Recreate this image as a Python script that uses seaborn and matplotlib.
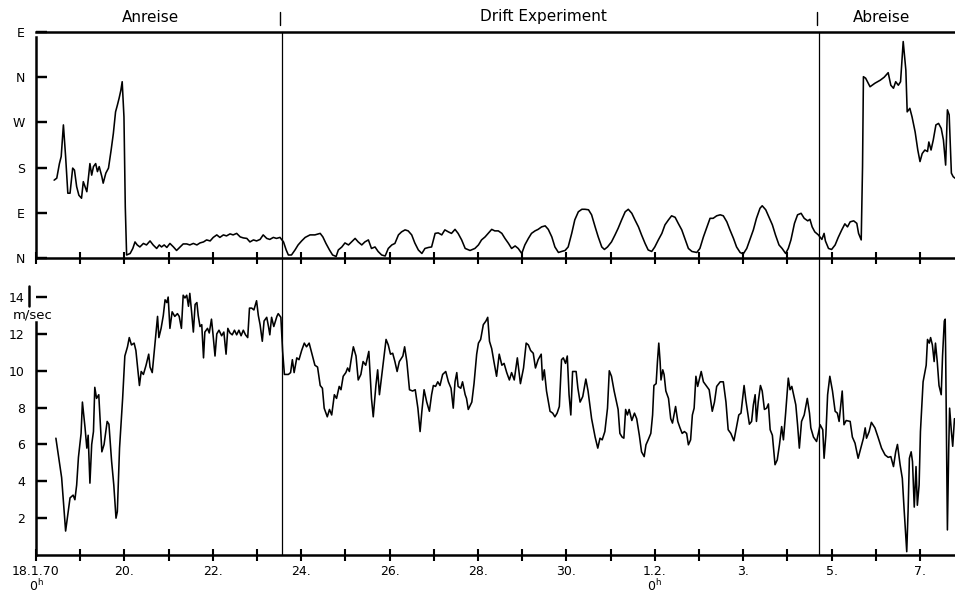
import numpy as np
import pandas as pd
import matplotlib
matplotlib.use("Agg")
import matplotlib.pyplot as plt
import seaborn as sns
from matplotlib.lines import Line2D
from matplotlib.transforms import blended_transform_factory

# ---- wind speed (days since 18.1.70 0h, m/sec) ----
speed_day = [
    0.45,0.58,0.67,0.77,0.84,0.88,0.92,0.96,1.02,1.05,
    1.11,1.15,1.18,1.22,1.26,1.30,1.33,1.37,1.42,1.49,
    1.54,1.61,1.65,1.71,1.76,1.81,1.84,1.89,1.96,2.01,
    2.07,2.11,2.16,2.22,2.26,2.30,2.34,2.38,2.43,2.49,
    2.55,2.58,2.63,2.69,2.75,2.78,2.83,2.88,2.92,2.96,
    2.99,3.03,3.08,3.14,3.20,3.24,3.29,3.33,3.37,3.41,
    3.45,3.48,3.52,3.56,3.60,3.64,3.67,3.71,3.75,3.79,
    3.82,3.88,3.92,3.97,4.00,4.05,4.09,4.14,4.20,4.25,
    4.30,4.34,4.39,4.44,4.49,4.54,4.59,4.64,4.69,4.74,
    4.79,4.83,4.88,4.93,4.99,5.03,5.07,5.12,5.16,5.22,
    5.26,5.29,5.33,5.38,5.45,5.48,
    5.54,5.58,5.62,5.71,5.76,5.80,5.84,5.90,5.95,6.01,
    6.07,6.12,6.18,6.24,6.31,6.37,6.43,6.48,6.52,6.59,
    6.64,6.69,6.75,6.80,6.86,6.90,6.95,7.01,7.05,7.09,
    7.13,7.18,7.24,7.29,7.35,7.40,7.46,7.53,7.59,7.63,
    7.69,7.73,7.77,7.81,7.86,7.92,7.97,8.02,8.07,8.12,
    8.17,8.22,8.30,8.34,8.39,8.45,8.52,8.58,8.64,8.69,
    8.73,8.78,8.84,8.90,8.95,8.99,9.04,9.09,9.14,9.20,
    9.27,9.33,9.39,9.44,9.48,9.52,9.55,9.61,9.65,9.71,
    9.74,9.78,9.86,9.91,9.97,10.01,10.06,10.12,10.18,10.22,
    10.26,10.31,10.36,10.42,10.48,10.54,10.59,10.65,10.71,10.76,
    10.82,10.89,
    10.96,11.03,11.09,11.14,11.19,11.25,11.30,11.36,11.43,11.46,
    11.50,11.55,11.63,11.69,11.74,11.79,11.84,11.89,11.93,11.98,
    12.02,12.06,12.10,12.14,12.22,12.26,12.31,12.37,12.44,12.49,
    12.57,12.65,12.71,12.76,12.81,12.87,12.93,12.97,13.02,13.08,
    13.14,13.17,13.21,13.26,13.30,13.34,13.38,13.42,13.48,13.54,
    13.59,13.65,13.70,13.76,13.80,13.85,13.91,13.95,13.98,14.03,
    14.06,14.09,14.12,14.14,14.18,14.21,14.25,14.31,14.36,14.40,
    14.47,14.52,14.57,14.62,14.67,14.72,14.76,14.81,14.85,14.89,
    14.93,14.97,15.05,15.10,15.16,15.23,15.30,15.35,15.40,
    15.48,15.55,15.61,15.66,15.72,15.79,15.85,15.90,15.95,16.02,
    16.06,16.14,16.19,16.23,16.27,16.30,16.34,16.39,16.43,16.48,
    16.53,16.57,16.61,16.66,16.72,16.77,16.82,16.87,16.91,16.96,
    17.02,17.06,17.10,17.15,17.19,17.23,17.27,17.32,17.38,17.45,
    17.50,17.53,17.59,17.66,17.70,17.74,17.80,17.83,17.87,17.91,
    17.96,18.02,18.08,18.13,18.17,18.24,18.28,18.33,18.42,18.47,
    18.53,18.60,18.66,18.72,18.76,18.79,18.85,18.90,18.98,19.05,
    19.13,19.21,19.28,19.34,19.40,19.45,19.49,19.55,19.60,19.64,
    19.70,19.73,19.76,19.80,19.83,19.87,19.91,19.94,19.98,20.01,
    20.07,20.14,20.17,20.21,20.24,20.28,20.32,20.35,20.39,20.43,
    20.48,20.51,20.55,20.57,20.58,20.60,20.62,20.65,20.67,20.71,
    20.74,20.78,
]
speed_ms = [
    6.34,4.2,1.3,3.1,3.25,3.0,3.8,5.3,6.6,8.3,
    6.9,5.8,6.5,3.9,6.0,6.7,9.1,8.5,8.7,5.6,
    6.0,7.25,7.1,5.1,3.8,2.0,2.35,5.8,8.5,10.8,
    11.3,11.8,11.4,11.5,11.1,10.15,9.2,9.96,9.8,10.3,
    10.9,10.2,9.9,11.4,12.95,11.8,12.3,13.0,13.85,13.7,
    14.0,12.3,13.2,12.95,13.1,12.95,12.3,14.1,13.95,14.1,
    13.5,14.2,13.2,12.1,13.6,13.7,13.0,12.4,12.5,10.7,
    12.1,12.3,12.05,12.8,12.1,10.8,12.0,12.2,11.9,12.1,
    10.9,12.3,12.05,11.95,12.2,11.95,12.2,11.9,12.2,11.95,
    11.8,13.4,13.4,13.3,13.8,13.0,12.5,11.6,12.7,12.9,
    12.4,11.95,12.9,12.4,12.95,13.1,
    12.9,11.05,9.8,9.8,9.9,10.6,9.9,10.7,10.6,11.1,
    11.5,11.3,11.5,10.95,10.3,10.2,9.2,9.05,7.97,7.5,
    7.9,7.6,8.7,8.5,9.15,8.97,9.7,9.9,10.15,9.96,
    10.6,11.3,10.8,9.5,9.8,10.5,10.3,11.05,8.5,7.5,
    9.2,10.05,8.7,9.5,10.5,11.7,11.4,10.9,10.95,10.5,
    9.96,10.5,10.8,11.3,10.5,8.97,8.9,8.97,7.97,6.7,
    7.8,8.97,8.3,7.8,8.7,9.2,9.15,9.4,9.2,9.8,
    9.96,9.4,9.05,7.97,9.4,9.9,9.15,9.05,9.4,8.7,
    8.5,7.9,8.3,9.3,10.9,11.5,11.7,12.5,12.7,12.9,
    11.6,11.2,10.5,9.7,10.9,10.3,10.4,9.9,9.5,9.9,
    9.5,10.7,
    9.3,10.15,11.5,11.4,11.1,10.95,10.15,10.6,10.9,9.5,
    10.05,8.9,7.8,7.7,7.5,7.7,8.06,10.6,10.7,10.4,
    10.8,8.7,7.6,9.96,9.96,9.05,8.3,8.6,9.55,8.9,
    7.4,6.4,5.8,6.34,6.25,6.7,7.97,10.0,9.7,8.9,
    8.24,7.9,6.6,6.4,6.34,7.9,7.6,7.9,7.3,7.7,
    7.4,6.5,5.6,5.34,5.98,6.25,6.6,7.6,9.2,9.3,
    10.5,11.5,10.5,9.5,10.05,9.8,8.9,8.5,7.4,7.16,
    8.06,7.25,6.9,6.6,6.7,6.6,5.98,6.25,7.6,7.97,
    9.7,9.15,9.96,9.4,9.2,8.97,7.8,8.3,9.15,
    9.4,9.4,8.3,6.8,6.6,6.2,6.97,7.6,7.7,9.2,
    8.4,7.1,7.25,8.15,8.7,7.25,8.3,9.2,8.9,7.9,
    7.97,8.2,6.8,6.5,4.9,5.16,5.98,6.97,6.25,7.7,
    9.6,8.97,9.15,8.6,8.15,7.07,5.8,7.25,7.6,8.5,
    7.7,6.9,6.4,6.16,6.6,7.07,6.8,5.25,6.5,8.7,
    9.7,8.9,7.8,7.7,7.25,8.9,7.07,7.3,7.25,6.4,
    6.07,5.25,5.8,6.34,6.9,6.34,6.7,7.2,6.9,6.4,
    5.8,5.43,5.3,5.34,4.8,5.6,6.0,4.9,4.16,2.5,
    0.18,2.35,5.25,5.6,5.07,2.6,4.8,2.7,3.8,6.7,
    9.4,10.3,11.7,11.5,11.8,11.4,10.5,11.5,10.5,9.2,
    8.7,10.8,12.7,12.8,11.05,5.98,1.36,5.8,7.97,6.7,
    5.9,7.4,
]

# ---- wind direction (days, degrees: 0=N, 90=E, 180=S, 270=W, 360=N, 450=E) ----
dir_day = [
    0.41,0.47,0.53,0.57,0.62,0.67,0.72,0.77,0.83,0.87,
    0.92,0.97,1.03,1.07,1.11,1.15,1.18,1.22,1.26,1.30,
    1.35,1.39,1.43,1.49,1.52,1.58,1.64,1.70,1.75,1.80,
    1.84,1.88,1.92,1.95,1.99,2.02,2.05,2.13,2.19,2.24,
    2.29,2.35,2.43,2.50,2.58,2.65,2.73,2.79,2.84,2.90,
    2.96,3.03,3.11,3.18,3.26,3.33,3.41,3.48,3.56,3.64,
    3.71,3.79,3.86,3.94,4.01,4.09,4.16,4.24,4.31,4.39,
    4.46,4.54,4.62,4.69,4.77,4.84,4.92,4.99,5.07,5.14,
    5.22,5.29,5.37,5.44,5.52,5.60,5.66,5.71,5.78,5.86,
    5.93,6.01,6.09,6.20,6.31,6.43,6.49,6.56,6.64,6.71,
    6.79,6.84,6.92,6.99,7.07,7.14,7.22,7.29,7.37,7.44,
    7.52,7.59,7.67,7.74,7.82,7.90,7.97,8.05,8.12,8.20,
    8.27,8.35,8.42,8.50,8.57,8.65,8.73,8.80,8.88,8.95,
    9.03,9.10,9.18,9.25,9.33,9.40,9.48,9.55,9.63,9.71,
    9.82,9.93,
    10.01,10.08,10.16,10.23,10.31,10.38,10.46,10.54,10.61,10.69,
    10.76,10.84,10.91,10.99,11.06,11.14,11.21,11.29,11.36,11.44,
    11.52,11.59,11.67,11.74,11.82,11.89,11.97,12.04,12.12,12.19,
    12.27,12.35,12.42,12.50,12.57,12.65,12.72,12.80,12.86,12.93,
    13.02,13.10,13.17,13.25,13.33,13.40,13.48,13.55,13.63,13.70,
    13.78,13.85,13.93,14.00,14.08,14.16,14.23,14.31,14.38,14.46,
    14.53,14.61,14.68,14.76,14.84,14.95,15.02,15.10,15.17,15.25,
    15.32,15.40,15.48,15.55,15.63,15.70,15.78,15.85,15.93,16.00,
    16.08,16.15,16.23,16.30,16.38,16.43,16.51,16.58,16.66,16.73,
    16.81,16.88,16.96,17.02,17.08,17.16,17.23,17.31,17.38,17.46,
    17.51,17.56,17.62,17.70,17.78,17.83,17.86,17.93,18.00,18.08,
    18.15,18.23,18.30,18.36,18.42,18.50,18.57,18.61,18.67,18.70,
    18.72,18.77,18.87,18.98,19.10,19.19,19.28,19.34,19.40,19.45,
    19.51,19.56,19.62,19.68,19.71,19.77,19.82,19.89,19.95,20.00,
    20.05,20.11,20.17,20.20,20.25,20.30,20.36,20.42,20.48,20.53,
    20.58,20.62,20.66,20.71,20.75,20.79,
]
dir_deg = [
    155,159,188,202,265,202,129,129,179,175,
    142,125,119,152,142,132,155,188,165,182,
    188,172,182,162,149,169,179,215,248,291,
    304,318,334,351,281,102,6,9,19,32,
    26,22,29,26,34,26,19,26,22,26,
    21,29,22,15,22,28,28,26,29,26,
    30,32,36,34,41,46,41,46,44,48,
    46,49,42,40,39,32,36,34,37,46,
    39,37,41,39,41,32,16,6,6,16,
    26,34,41,46,46,49,42,29,16,6,
    3,16,22,30,26,32,39,32,26,32,
    36,19,22,13,6,4,19,26,29,46,
    52,56,54,46,30,16,9,19,21,22,
    49,50,46,56,52,49,57,49,36,19,
    15,19,
    26,36,42,49,57,54,54,49,39,29,
    19,24,19,9,26,39,49,54,57,62,
    64,57,42,22,11,13,15,22,49,76,
    92,97,97,96,86,62,42,22,17,22,
    32,46,59,76,92,97,89,76,62,46,
    29,16,13,22,36,49,66,76,84,81,
    69,56,39,19,13,11,19,42,59,79,
    79,84,86,84,72,56,39,22,11,8,
    19,36,56,79,99,104,96,82,66,46,
    26,19,9,19,36,69,86,89,79,74,
    77,62,52,46,37,49,34,19,17,26,
    41,56,68,62,72,74,69,49,36,182,
    361,358,341,348,354,360,369,344,338,351,
    344,351,431,374,291,298,281,251,215,192,
    208,215,212,231,215,235,265,268,258,235,
    185,295,285,169,162,159,
]

dir_ticks = [0, 90, 180, 270, 360, 450]
dir_labels = ["N", "E", "S", "W", "N", "E"]
speed_ticks = [2, 4, 6, 8, 10, 12, 14]
day_ticks = list(range(0, 21))
date_labels = {0: "18.1.70\n0$^{\\mathrm{h}}$", 2: "20.", 4: "22.", 6: "24.", 8: "26.",
               10: "28.", 12: "30.", 14: "1.2.\n0$^{\\mathrm{h}}$", 16: "3.", 18: "5.", 20: "7."}
phase_bounds = [5.57, 17.71]
phase_names = ["Anreise", "Drift Experiment", "Abreise"]
phase_centers = [2.58, 11.47, 19.12]

sns.set_theme(style="ticks")
plt.rcParams["font.family"] = ["DejaVu Sans"]

W, H = 955, 594
fig = plt.figure(figsize=(W / 100, H / 100), dpi=100)
fig.patch.set_facecolor("white")

left = 36 / W
width = (W - 36) / W
top_b, top_t = (H - 258) / H, (H - 32) / H
bot_b, bot_t = (H - 555) / H, (H - 286) / H
ax_top = fig.add_axes([left, top_b, width, top_t - top_b])
ax_bot = fig.add_axes([left, bot_b, width, bot_t - bot_b])

xmax = (W - 36) / 44.2

df_dir = pd.DataFrame({"day": dir_day, "deg": dir_deg})
df_spd = pd.DataFrame({"day": speed_day, "ms": speed_ms})
sns.lineplot(data=df_dir, x="day", y="deg", ax=ax_top, color="black", lw=1.15,
             sort=False, estimator=None)
sns.lineplot(data=df_spd, x="day", y="ms", ax=ax_bot, color="black", lw=1.15,
             sort=False, estimator=None)

spine_lw = 1.8
for ax in (ax_top, ax_bot):
    ax.set_facecolor("white")
    ax.set_xlim(0, xmax)
    ax.set_xlabel("")
    ax.set_ylabel("")
    ax.grid(False)
    ax.spines["right"].set_visible(False)
    for s in ("left", "bottom", "top"):
        ax.spines[s].set_color("black")
        ax.spines[s].set_linewidth(spine_lw)
    ax.set_xticks(day_ticks)

ax_top.set_ylim(0, 450)
ax_top.set_yticks(dir_ticks)
ax_top.set_yticklabels(dir_labels)
ax_bot.set_ylim(0, 14.6)
ax_bot.set_yticks(speed_ticks)
ax_bot.set_yticklabels([str(t) for t in speed_ticks])
ax_bot.set_xticklabels([date_labels.get(d, "") for d in day_ticks], fontsize=9,
                       color="black", linespacing=1.0)

stub = 11 / 919  # tick stub length in axes fraction
for ax, yt in ((ax_top, dir_ticks), (ax_bot, speed_ticks)):
    ax.tick_params(axis="x", which="major", bottom=True, direction="inout",
                   length=9, width=1.5, color="black", pad=3)
    ax.tick_params(axis="y", which="major", left=True, direction="in",
                   length=8, width=1.6, color="black", pad=8)
    ax.tick_params(axis="y", labelsize=9, labelcolor="black")
    tr = blended_transform_factory(ax.transAxes, ax.transData)
    for v in yt:
        ax.add_line(Line2D([0, stub], [v, v], transform=tr, color="black",
                           lw=1.6, clip_on=False, zorder=6, solid_capstyle="butt"))

ax_top.tick_params(axis="x", labelbottom=False)
ax_top.spines["left"].set_bounds(0, 440)
ax_top.spines["top"].set_visible(True)

ax_bot.spines["top"].set_visible(False)
ax_bot.spines["left"].set_bounds(0, 12.65)
tr_b = blended_transform_factory(ax_bot.transAxes, ax_bot.transData)
ax_bot.add_line(Line2D([-7 / 919, -7 / 919], [13.5, 14.6], transform=tr_b,
                       color="black", lw=spine_lw, clip_on=False))
ax_bot.text(-3 / 919, 13.0, "m/sec", transform=tr_b, ha="center", va="center",
            fontsize=9.5, color="black")

# phase separators spanning both panels
tr_f = blended_transform_factory(ax_top.transData, fig.transFigure)
for b in phase_bounds:
    fig.add_artist(Line2D([b, b], [bot_b, top_t], transform=tr_f, color="black", lw=0.9))
    fig.add_artist(Line2D([b - 0.04, b - 0.04], [(H - 25) / H, (H - 12) / H],
                          transform=tr_f, color="black", lw=1.0))

tr_t = blended_transform_factory(ax_top.transData, ax_top.transAxes)
for c, name in zip(phase_centers, phase_names):
    ax_top.text(c, 1 + 15 / 226, name, transform=tr_t, ha="center", va="center",
                fontsize=11, color="black")

fig.savefig("out.png", dpi=100, facecolor="white")
